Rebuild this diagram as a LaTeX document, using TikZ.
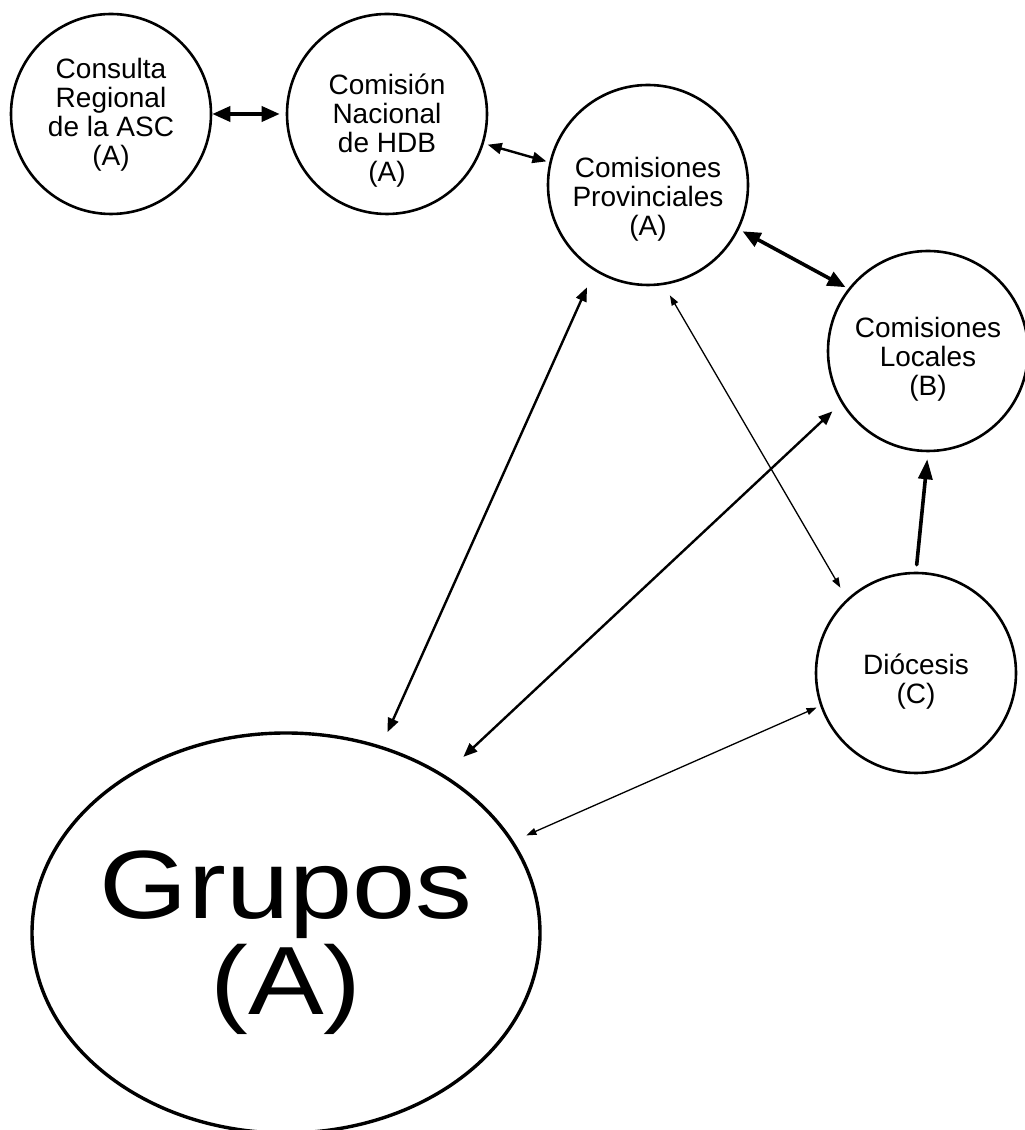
\documentclass[tikz,border=0pt]{standalone}
\usepackage{fontspec}
\usepackage{graphicx}
\setmainfont{Liberation Sans}
\usetikzlibrary{arrows.meta,shapes.geometric}

\newcommand{\widetext}[1]{\makebox[0pt]{\scalebox{1.17}[1]{#1}}}

\begin{document}
\begin{tikzpicture}[x=1pt,y=1pt,line cap=round,line join=round,
  unit/.style={draw,circle,line width=2.6pt,minimum size=200pt,inner sep=0pt,
    align=center,text depth=0pt,font=\fontsize{28}{29}\selectfont},
  crowd/.style={draw,ellipse,line width=3.4pt,minimum width=508pt,minimum height=400pt,
    inner sep=0pt,align=center,text depth=0pt,font=\fontsize{97}{96}\selectfont},
  boldlink/.style={line width=3.6pt,{Triangle[length=18pt,width=15pt]}-{Triangle[length=18pt,width=15pt]}},
  midlink/.style={line width=2.4pt,{Triangle[length=14pt,width=11pt]}-{Triangle[length=14pt,width=11pt]}},
  finelink/.style={line width=1.3pt,{Triangle[length=10pt,width=7pt]}-{Triangle[length=10pt,width=7pt]}},
  uplink/.style={line width=3.6pt,-{Triangle[length=20pt,width=14pt]}}]

\useasboundingbox (0,0) rectangle (1025,1130);

% Bodies.
\node[unit,text height=103pt] (consulta) at (111,1016) {Consulta\\Regional\\de la ASC\\(A)};
\node[unit,text height=136pt] (nacional) at (387,1016) {Comisión\\Nacional\\de HDB\\(A)};
\node[unit,text height=102pt] (provincia) at (648,945) {Comisiones\\Provinciales\\(A)};
\node[unit,text height=90pt] (locales) at (928,779) {Comisiones\\Locales\\(B)};
\node[unit,text height=62pt] (diocesis) at (916,457) {Diócesis\\(C)};
\node[crowd] (grupos) at (286,197) {\widetext{Grupos}\\\widetext{(A)}};

% Top chain.
\draw[boldlink,shorten >=6pt] (consulta.east) -- (nacional.west);
\draw[midlink,shorten <=4pt,shorten >=3pt] (nacional.-17) -- (provincia.167);
\draw[boldlink,shorten <=4pt,shorten >=3pt] (provincia.-26) -- (locales.142);

% Links from the groups.
\draw[midlink,shorten <=15pt,shorten >=18pt] (grupos.63) -- (provincia.238);
\draw[midlink,shorten <=26pt,shorten >=12pt] (grupos.45) -- (locales.211);
\draw[finelink,shorten <=14pt,shorten >=4pt] (grupos.22) -- (diocesis.199);

% Diocese links.
\draw[finelink,shorten <=12pt,shorten >=13pt] (provincia.-81) -- (diocesis.133);
\draw[uplink,shorten <=7pt,shorten >=7pt] (diocesis.north) -- (locales.south);

\end{tikzpicture}
\end{document}
